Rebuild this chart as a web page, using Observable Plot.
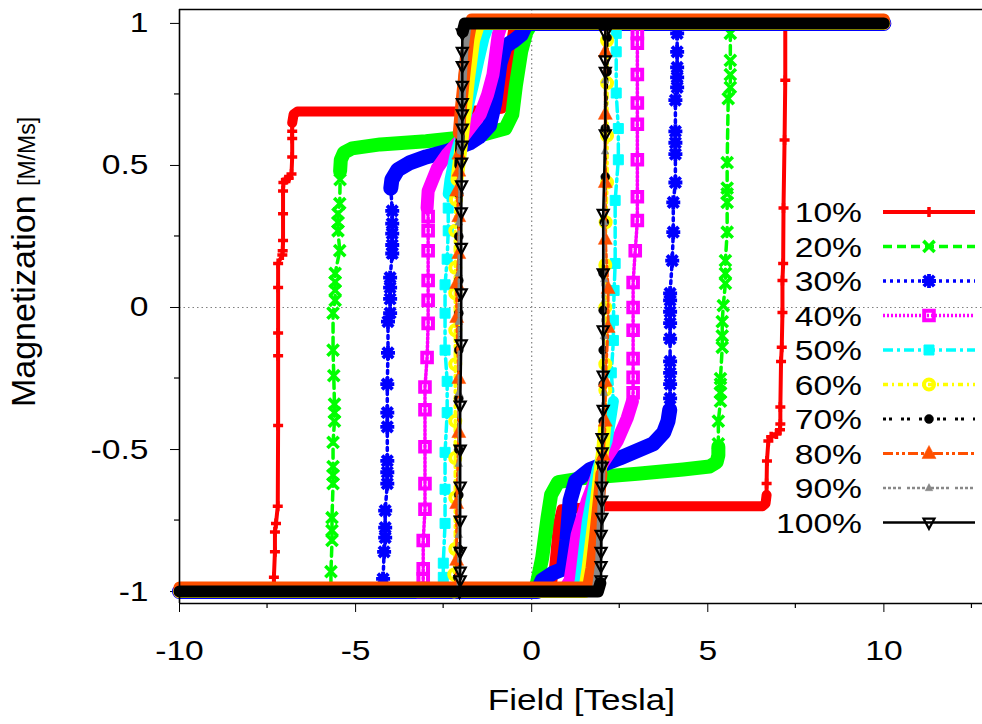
<!DOCTYPE html>
<html><head><meta charset="utf-8">
<script src="https://cdn.jsdelivr.net/npm/d3@7"></script>
<script src="https://cdn.jsdelivr.net/npm/@observablehq/plot@0.6"></script>
<style>
html,body{margin:0;padding:0;background:#fff;}
#chart{width:982px;height:724px;overflow:hidden;}
</style></head><body><div id="chart"></div>
<script>
// ---------- axis values ----------
const xDomain = [-10, 12.8];
const yDomain = [-1.042, 1.049];
const xTicks = [-10, -5, 0, 5, 10];
const xMinorTicks = [-7.5, -2.5, 2.5, 7.5, 12.5];
const yTicks = [-1, -0.5, 0, 0.5, 1];
const yMinorTicks = [-0.75, -0.25, 0.25, 0.75];
const xTitle = "Field [Tesla]";
const yTitle = "Magnetization";
const yTitleUnit = "[M/Ms]";
const seriesLabels = ["10%","20%","30%","40%","50%","60%","70%","80%","90%","100%"];

// ---------- data: [field, magnetization] ----------
// upper branch (field decreasing): densely sampled part, then sparse jump samples
const up10 = [[10,1],[-0.5,1],[-0.62,0.9],[-0.72,0.76],[-0.85,0.70],[-2,0.69],[-4,0.69],[-6.65,0.69],[-6.76,0.68],[-6.8,0.65]];
const upJump10 = [[-6.8,0.62],[-6.8,0.595],[-6.8,0.53],[-6.82,0.47],[-6.9,0.455],[-6.98,0.45],[-7.05,0.44],[-7.06,0.41],[-7.06,0.33],[-7.06,0.236],[-7.07,0.2],[-7.08,0.185],[-7.2,0.155],[-7.2,0.07],[-7.2,-0.09],[-7.2,-0.17],[-7.2,-0.415],[-7.21,-0.70],[-7.26,-0.76],[-7.29,-0.79],[-7.29,-0.86],[-7.32,-0.95],[-7.32,-1]];
const lo10 = [[-10,-1],[0.55,-1],[0.65,-0.9],[0.75,-0.76],[0.85,-0.71],[2,-0.70],[4,-0.70],[6.55,-0.70],[6.64,-0.69],[6.67,-0.66]];
const loJump10 = [[6.67,-0.62],[6.68,-0.54],[6.72,-0.47],[6.8,-0.455],[6.95,-0.445],[7.05,-0.43],[7.06,-0.41],[7.06,-0.35],[7.08,-0.19],[7.1,-0.14],[7.12,-0.018],[7.12,0.095],[7.14,0.155],[7.15,0.35],[7.18,0.59],[7.2,0.8],[7.2,1]];

const up20 = [[10,1],[0.0,1],[-0.15,0.97],[-0.3,0.9],[-0.45,0.78],[-0.55,0.68],[-0.75,0.63],[-1.5,0.605],[-3,0.585],[-4.3,0.574],[-5.1,0.56],[-5.33,0.545],[-5.42,0.52],[-5.44,0.48]];
const upJump20 = [[-5.44,0.45],[-5.45,0.366],[-5.5,0.33],[-5.5,0.30],[-5.5,0.27],[-5.45,0.20],[-5.58,0.12],[-5.58,0.09],[-5.58,0.06],[-5.58,0.025],[-5.64,-0.02],[-5.64,-0.15],[-5.62,-0.24],[-5.6,-0.34],[-5.6,-0.37],[-5.6,-0.40],[-5.64,-0.475],[-5.64,-0.56],[-5.64,-0.59],[-5.64,-0.62],[-5.67,-0.74],[-5.67,-0.785],[-5.67,-0.82],[-5.7,-0.93],[-5.7,-1]];
const lo20 = [[-10,-1],[0.05,-1],[0.15,-0.97],[0.3,-0.88],[0.45,-0.74],[0.55,-0.66],[0.75,-0.615],[1.5,-0.60],[3,-0.585],[4.3,-0.57],[5.05,-0.56],[5.25,-0.545],[5.3,-0.52],[5.3,-0.49]];
const loJump20 = [[5.3,-0.48],[5.3,-0.40],[5.36,-0.33],[5.36,-0.30],[5.36,-0.27],[5.36,-0.25],[5.41,-0.14],[5.41,-0.1],[5.41,-0.05],[5.44,0.007],[5.5,0.085],[5.5,0.12],[5.5,0.165],[5.55,0.265],[5.55,0.37],[5.55,0.40],[5.55,0.42],[5.55,0.51],[5.58,0.735],[5.64,0.775],[5.64,0.82],[5.64,0.87],[5.64,0.965],[5.64,1]];

const up30 = [[10,1],[-0.15,1],[-0.3,0.96],[-0.5,0.94],[-0.75,0.92],[-0.9,0.86],[-1.05,0.72],[-1.2,0.64],[-1.5,0.6],[-1.75,0.58],[-2.4,0.55],[-3.0,0.53],[-3.45,0.51],[-3.8,0.485],[-3.97,0.45],[-4.0,0.42]];
const upJump30 = [[-3.96,0.34],[-3.96,0.295],[-3.96,0.26],[-3.96,0.22],[-3.96,0.19],[-4.02,0.105],[-4.02,0.07],[-4.02,0.03],[-4.02,-0.02],[-4.08,-0.05],[-4.08,-0.16],[-4.1,-0.27],[-4.1,-0.37],[-4.1,-0.42],[-4.1,-0.54],[-4.1,-0.58],[-4.1,-0.62],[-4.16,-0.715],[-4.16,-0.775],[-4.16,-0.81],[-4.19,-0.86],[-4.22,-0.955],[-4.22,-1]];
const lo30 = [[-10,-1],[0.15,-1],[0.3,-0.96],[0.6,-0.935],[0.9,-0.92],[1.0,-0.82],[1.09,-0.68],[1.25,-0.61],[1.66,-0.57],[2.5,-0.53],[3.45,-0.48],[3.75,-0.44],[3.87,-0.40],[3.92,-0.36]];
const loJump30 = [[3.93,-0.32],[3.93,-0.27],[3.93,-0.23],[3.93,-0.19],[3.93,-0.11],[3.93,-0.055],[3.93,-0.015],[3.93,0.025],[3.93,0.05],[3.99,0.165],[4.02,0.265],[4.02,0.37],[4.08,0.44],[4.08,0.54],[4.08,0.58],[4.08,0.62],[4.08,0.73],[4.13,0.775],[4.13,0.81],[4.13,0.845],[4.13,0.90],[4.13,0.965],[4.13,1]];

const up40 = [[10,1],[-0.85,1],[-0.95,0.96],[-1.1,0.82],[-1.25,0.75],[-1.46,0.68],[-1.95,0.60],[-2.4,0.54],[-2.68,0.49],[-2.94,0.41],[-2.97,0.35]];
const upJump40 = [[-2.94,0.32],[-2.94,0.27],[-2.94,0.20],[-2.94,0.095],[-2.94,0.025],[-2.94,-0.056],[-2.97,-0.176],[-3.03,-0.28],[-3.03,-0.36],[-3.03,-0.49],[-3.03,-0.62],[-3.03,-0.71],[-3.08,-0.82],[-3.08,-0.92],[-3.08,-0.955],[-3.08,-1]];
const lo40 = [[-10,-1],[0.9,-1],[1.09,-0.96],[1.29,-0.80],[1.58,-0.68],[1.95,-0.56],[2.43,-0.47],[2.71,-0.39],[2.86,-0.33]];
const loJump40 = [[2.88,-0.30],[2.88,-0.246],[2.88,-0.18],[2.88,-0.08],[2.88,0.0],[2.88,0.088],[2.94,0.20],[3.0,0.306],[3.0,0.39],[3.0,0.52],[3.0,0.645],[3.0,0.72],[3.0,0.82],[3.0,0.93],[3.0,0.965],[3.0,1]];

const up50 = [[10,1],[-1.2,1],[-1.35,0.95],[-1.5,0.87],[-1.66,0.78],[-1.97,0.62],[-2.17,0.54],[-2.32,0.45],[-2.37,0.40]];
const upJump50 = [[-2.37,0.35],[-2.37,0.27],[-2.4,0.17],[-2.46,0.08],[-2.46,-0.02],[-2.46,-0.15],[-2.4,-0.26],[-2.4,-0.37],[-2.46,-0.51],[-2.46,-0.64],[-2.46,-0.76],[-2.51,-0.90],[-2.51,-0.95],[-2.51,-1]];
const lo50 = [[-10,-1],[1.3,-1],[1.38,-0.96],[1.58,-0.75],[1.86,-0.57],[2.14,-0.47],[2.26,-0.38],[2.32,-0.33]];
const loJump50 = [[2.26,-0.23],[2.32,-0.116],[2.32,-0.045],[2.34,0.06],[2.37,0.155],[2.37,0.377],[2.46,0.52],[2.46,0.63],[2.4,0.755],[2.4,0.90],[2.4,0.965],[2.4,1]];

const up60 = [[10,1],[-1.5,1],[-1.65,0.94],[-1.8,0.8],[-1.95,0.62],[-2.05,0.52],[-2.12,0.45]];
const upJump60 = [[-2.15,0.38],[-2.17,0.27],[-2.17,0.14],[-2.17,0.05],[-2.17,-0.08],[-2.17,-0.2],[-2.17,-0.40],[-2.17,-0.53],[-2.17,-0.67],[-2.17,-0.85],[-2.2,-0.94],[-2.2,-1]];
const lo60 = [[-10,-1],[1.5,-1],[1.6,-0.92],[1.75,-0.77],[1.92,-0.6],[2.02,-0.5],[2.07,-0.42]];
const loJump60 = [[2.09,-0.29],[2.09,-0.2],[2.09,0.0],[2.09,0.15],[2.1,0.30],[2.14,0.44],[2.14,0.605],[2.14,0.79],[2.14,0.94],[2.14,1]];

const up70 = [[10,1],[-1.8,1],[-1.9,0.9],[-1.98,0.75],[-2.03,0.6],[-2.07,0.5]];
const upJump70 = [[-2.07,0.4],[-2.07,0.25],[-2.07,0.095],[-2.07,-0.02],[-2.07,-0.15],[-2.07,-0.32],[-2.07,-0.50],[-2.07,-0.66],[-2.07,-0.85],[-2.1,-0.95],[-2.1,-1]];
const lo70 = [[-10,-1],[1.75,-1],[1.85,-0.9],[1.93,-0.75],[1.97,-0.62],[2.0,-0.53]];
const loJump70 = [[2.03,-0.40],[2.03,-0.27],[2.03,-0.15],[2.03,-0.01],[2.03,0.12],[2.06,0.30],[2.09,0.46],[2.09,0.63],[2.14,0.83],[2.14,0.95],[2.14,1]];

const up80 = [[10,1],[-1.7,1],[-1.8,0.93],[-1.9,0.82],[-2.0,0.7],[-2.07,0.6]];
const upJump80 = [[-2.07,0.54],[-2.07,0.48],[-2.13,0.41],[-2.07,0.32],[-2.07,0.19],[-2.13,0.085],[-2.13,-0.035],[-2.07,-0.25],[-2.07,-0.44],[-2.13,-0.69],[-2.13,-0.89],[-2.15,-1]];
const lo80 = [[-10,-1],[1.6,-1],[1.7,-0.93],[1.8,-0.82],[1.9,-0.7],[1.98,-0.6]];
const loJump80 = [[2.03,-0.52],[2.09,-0.40],[2.09,-0.26],[2.17,-0.07],[2.17,0.067],[2.09,0.24],[2.09,0.44],[2.09,0.68],[2.09,0.90],[2.09,1]];

const up90 = [[10,1],[-1.8,1],[-1.9,0.9],[-1.98,0.72],[-2.03,0.55]];
const upJump90 = [[-2.05,0.45],[-2.07,0.3],[-2.07,0.12],[-2.07,-0.05],[-2.07,-0.3],[-2.07,-0.55],[-2.07,-0.8],[-2.1,-1]];
const lo90 = [[-10,-1],[1.8,-1],[1.9,-0.9],[1.96,-0.72],[2.0,-0.55]];
const loJump90 = [[2.03,-0.45],[2.05,-0.3],[2.05,-0.1],[2.06,0.1],[2.06,0.3],[2.08,0.55],[2.08,0.8],[2.1,1]];

const up100 = [[10,1],[-1.9,1],[-1.96,0.97]];
const upJump100 = [[-1.97,0.965],[-1.97,0.9],[-1.97,0.85],[-1.97,0.78],[-1.97,0.72],[-1.97,0.68],[-1.97,0.63],[-1.97,0.57],[-1.99,0.51],[-1.99,0.43],[-2.0,0.335],[-2.0,0.21],[-2.0,0.05],[-2.0,-0.13],[-2.03,-0.345],[-2.03,-0.5],[-2.03,-0.63],[-2.03,-0.75],[-2.03,-0.86],[-2.03,-0.93],[-2.03,-0.96],[-2.05,-1]];
const lo100 = [[-10,-1],[1.88,-1],[1.95,-0.97]];
const loJump100 = [[1.97,-0.96],[1.97,-0.91],[1.97,-0.86],[1.97,-0.80],[1.99,-0.74],[1.99,-0.68],[1.99,-0.63],[2.0,-0.56],[2.0,-0.51],[2.0,-0.46],[2.03,-0.36],[2.03,-0.24],[2.03,-0.08],[2.03,0.12],[2.03,0.33],[2.09,0.61],[2.09,0.83],[2.09,0.87],[2.09,0.965],[2.1,1]];

const upperDense = [up10, up20, up30, up40, up50, up60, up70, up80, up90, up100];
const upperJumps = [upJump10, upJump20, upJump30, upJump40, upJump50, upJump60, upJump70, upJump80, upJump90, upJump100];
const lowerDense = [lo10, lo20, lo30, lo40, lo50, lo60, lo70, lo80, lo90, lo100];
const lowerJumps = [loJump10, loJump20, loJump30, loJump40, loJump50, loJump60, loJump70, loJump80, loJump90, loJump100];

// ---------- symbols (gnuplot-like) ----------
const R = s => Math.sqrt(s / Math.PI);
const symPlus = {draw(c, s){const r=R(s); c.moveTo(-r,0); c.lineTo(r,0); c.moveTo(0,-r); c.lineTo(0,r);}};
const symTimes = {draw(c, s){const r=R(s)*0.8; c.moveTo(-r,-r); c.lineTo(r,r); c.moveTo(-r,r); c.lineTo(r,-r);}};
const symStar = {draw(c, s){const r=R(s), q=r*0.75; c.moveTo(-r,0); c.lineTo(r,0); c.moveTo(0,-r); c.lineTo(0,r); c.moveTo(-q,-q); c.lineTo(q,q); c.moveTo(-q,q); c.lineTo(q,-q);}};
const symSquare = {draw(c, s){const r=R(s); c.rect(-r,-r,2*r,2*r);}};
const symCircle = {draw(c, s){const r=R(s); c.moveTo(r,0); c.arc(0,0,r,0,2*Math.PI);}};
const symTriUp = {draw(c, s){const r=R(s); c.moveTo(0,-r*1.15); c.lineTo(r,r*0.72); c.lineTo(-r,r*0.72); c.closePath();}};
const symTriDown = {draw(c, s){const r=R(s); c.moveTo(0,r*1.15); c.lineTo(r,-r*0.72); c.lineTo(-r,-r*0.72); c.closePath();}};

// ---------- styles ----------
const styles = [
  {color:"#ff0000", lw:4,   dash:null,               band:10, bandDy:0,  sym:symPlus,   r:5,   fill:"none",    sw:3.5},
  {color:"#00ff00", lw:3.5, dash:"9,5",              band:14, bandDy:0,  sym:symTimes,  r:7,   fill:"none",    sw:3.6},
  {color:"#0000ff", lw:3.5, dash:"3,4",              band:15, bandDy:0,  sym:symStar,   r:7,   fill:"none",    sw:3.8},
  {color:"#ff00ff", lw:3.5, dash:"2,2",              band:13, bandDy:0,  sym:symSquare, r:4.8, fill:"none",    sw:4},
  {color:"#00ffff", lw:3.5, dash:"10,4,3,4",         band:11, bandDy:0,  sym:symSquare, r:5,   fill:"#00ffff", sw:1},
  {color:"#ffff00", lw:3.5, dash:"5,4,2,4",          band:13, bandDy:0,  sym:symCircle, r:5,   fill:"none",    sw:4},
  {color:"#000000", lw:3,   dash:"3,3,3,9",          band:9,  bandDy:0,  sym:symCircle, r:4.5, fill:"#000000", sw:0.5},
  {color:"#ff5000", lw:3,   dash:"10,3,3,3,3,3",     band:12, bandDy:-4, sym:symTriUp,  r:7,   fill:"#ff5000", sw:0.5},
  {color:"#888888", lw:2.5, dash:"3,2,3,2,3,2,3,6",  band:7,  bandDy:0,  sym:symTriUp,  r:3.8, fill:"#888888", sw:0.5},
  {color:"#000000", lw:2.5, dash:null,               band:12, bandDy:0,  sym:symTriDown,r:5.5, fill:"none",    sw:2.2}
];

const fx = d => d[0], fy = d => d[1];
const marks = [
  Plot.ruleX([0], {stroke:"#808080", strokeWidth:1.2, strokeDasharray:"1.5,3"}),
  Plot.ruleY([0], {stroke:"#808080", strokeWidth:1.2, strokeDasharray:"1.5,3"})
];
seriesLabels.forEach((lab, i) => {
  const st = styles[i];
  const lineOpts = {x:fx, y:fy, stroke:st.color, strokeWidth:st.lw, strokeDasharray:st.dash || undefined, strokeLinejoin:"round"};
  const bandOpts = {x:fx, y:fy, stroke:st.color, strokeWidth:st.band, strokeLinecap:"round", strokeLinejoin:"round", dy:st.bandDy};
  const dotOpts = {x:fx, y:fy, symbol:st.sym, r:st.r, fill:st.fill, stroke:st.color, strokeWidth:st.sw};
  const upAll = upperDense[i].concat(upperJumps[i]);
  const loAll = lowerDense[i].concat(lowerJumps[i]);
  marks.push(
    Plot.line(upAll, lineOpts),
    Plot.line(loAll, lineOpts),
    Plot.line(upperDense[i], bandOpts),
    Plot.line(lowerDense[i], bandOpts),
    Plot.dot(upperJumps[i].concat(lowerJumps[i]), dotOpts)
  );
});
// frame (left, top, bottom; right edge lies outside the picture)
marks.push(
  Plot.ruleX([xDomain[0]], {stroke:"#000", strokeWidth:1.6}),
  Plot.ruleY([yDomain[0]], {stroke:"#000", strokeWidth:1.6}),
  Plot.ruleY([yDomain[1]], {stroke:"#000", strokeWidth:1.6})
);

const fmt = d => String(d);
const chart = Plot.plot({
  width: 982, height: 724,
  marginLeft: 179, marginRight: 0, marginTop: 9, marginBottom: 121,
  style: {fontFamily: "'Liberation Sans', Arial, Helvetica, sans-serif", fontSize: "28px", background: "#fff", color: "#000", overflow: "visible"},
  x: {domain: xDomain, ticks: xTicks, tickSize: 9, tickPadding: 28, tickFormat: fmt, label: null},
  y: {domain: yDomain, ticks: yTicks, tickSize: 9, tickPadding: 22, tickFormat: fmt, label: null},
  marks
});
document.getElementById("chart").appendChild(chart);

// ---------- extras drawn with the plot's own scales ----------
const svg = d3.select(chart);
const sxD = chart.scale("x"), syD = chart.scale("y");
const sx = d3.scaleLinear(sxD.domain, sxD.range);
const sy = d3.scaleLinear(syD.domain, syD.range);
const [fx0, fx1] = sxD.range, [fyB, fyT] = syD.range;

const extra = svg.append("g");
// minor ticks
extra.selectAll(".mx").data(xMinorTicks).join("line")
  .attr("x1", d => sx(d)).attr("x2", d => sx(d)).attr("y1", fyB).attr("y2", fyB + 5)
  .attr("stroke", "#000").attr("stroke-width", 1.2);
extra.selectAll(".my").data(yMinorTicks).join("line")
  .attr("y1", d => sy(d)).attr("y2", d => sy(d)).attr("x1", fx0).attr("x2", fx0 - 5)
  .attr("stroke", "#000").attr("stroke-width", 1.2);

// axis titles
const xt = extra.append("text").attr("x", (fx0 + fx1) / 2 + 1).attr("y", fyB + 107)
  .attr("text-anchor", "middle").attr("font-size", 30).attr("fill", "#000").text(xTitle);
const yt = extra.append("text").attr("transform", `translate(35,${(fyB + fyT) / 2 - 44}) rotate(-90)`)
  .attr("text-anchor", "middle").attr("fill", "#000");
yt.append("tspan").attr("font-size", 34).text(yTitle + " ");
yt.append("tspan").attr("font-size", 23).text(yTitleUnit);

// legend
const legX = 862, legY0 = sy(0) - 95, legDY = 34.5, sampleX0 = 883, sampleX1 = 975;
const leg = extra.append("g");
seriesLabels.forEach((lab, i) => {
  const st = styles[i], y = legY0 + i * legDY;
  leg.append("text").attr("class", "legtext").attr("x", legX).attr("y", y).attr("dy", "0.36em")
    .attr("text-anchor", "end").attr("font-size", 28).attr("fill", "#000").text(lab);
  leg.append("line").attr("x1", sampleX0).attr("x2", sampleX1).attr("y1", y).attr("y2", y)
    .attr("stroke", st.color).attr("stroke-width", st.lw)
    .attr("stroke-dasharray", st.dash || null);
  leg.append("path").attr("transform", `translate(${(sampleX0 + sampleX1) / 2},${y})`)
    .attr("d", d3.symbol(st.sym, Math.PI * st.r * st.r)())
    .attr("fill", st.fill).attr("stroke", st.color).attr("stroke-width", st.sw);
});

// gnuplot's wide rendering of horizontal text
function stretch(node, k) {
  const L = node.getComputedTextLength();
  if (L > 0) { node.setAttribute("textLength", L * k); node.setAttribute("lengthAdjust", "spacingAndGlyphs"); }
}
svg.selectAll("text").each(function() {
  if (this === yt.node()) return;
  stretch(this, this === xt.node() ? 1.17 : 1.2);
});
</script></body></html>
